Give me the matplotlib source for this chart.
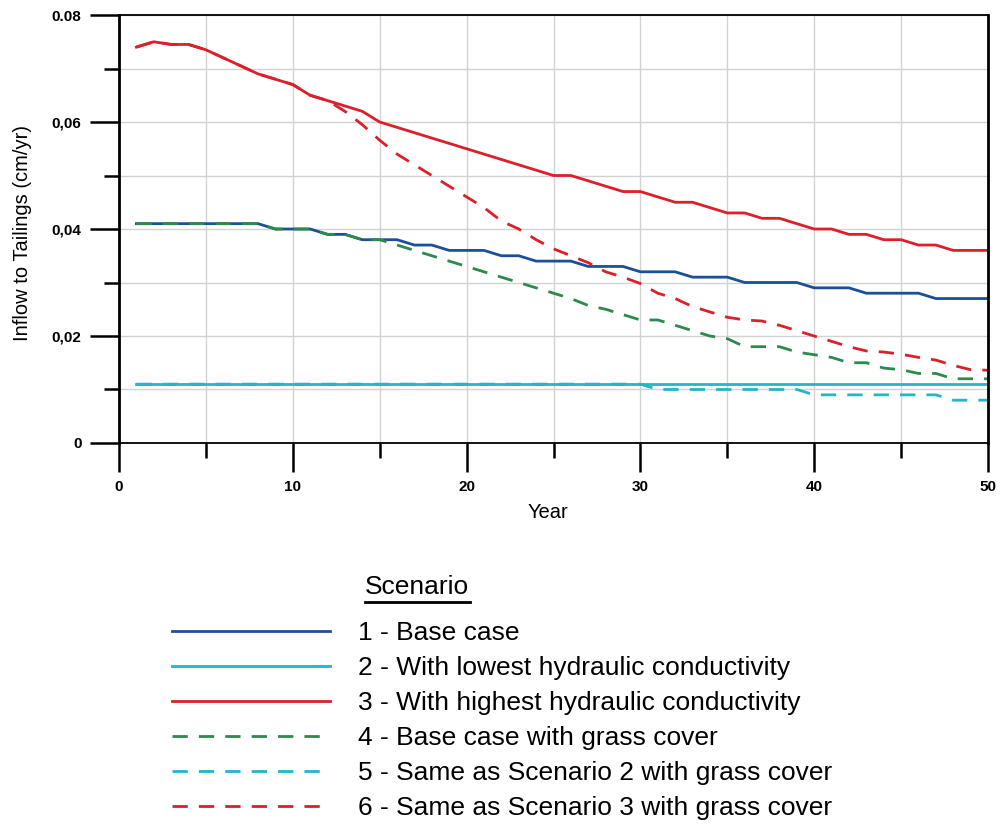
import matplotlib
matplotlib.use("Agg")
import matplotlib.pyplot as plt
from matplotlib.lines import Line2D
from matplotlib.ticker import MultipleLocator
import numpy as np

plt.rcParams['font.family'] = ['Liberation Sans', 'DejaVu Sans']

years = list(range(1, 51))

# 1 - base case
base = [0.041, 0.041, 0.041, 0.041, 0.041, 0.041, 0.041, 0.041, 0.040, 0.040,
        0.040, 0.039, 0.039, 0.038, 0.038, 0.038, 0.037, 0.037, 0.036, 0.036,
        0.036, 0.035, 0.035, 0.034, 0.034, 0.034, 0.033, 0.033, 0.033, 0.032,
        0.032, 0.032, 0.031, 0.031, 0.031, 0.030, 0.030, 0.030, 0.030, 0.029,
        0.029, 0.029, 0.028, 0.028, 0.028, 0.028, 0.027, 0.027, 0.027, 0.027]
# 2 - lowest hydraulic conductivity
low_k = [0.011] * 50
# 3 - highest hydraulic conductivity
high_k = [0.074, 0.075, 0.0745, 0.0745, 0.0735, 0.072, 0.0705, 0.069, 0.068, 0.067,
          0.065, 0.064, 0.063, 0.062, 0.060, 0.059, 0.058, 0.057, 0.056, 0.055,
          0.054, 0.053, 0.052, 0.051, 0.050, 0.050, 0.049, 0.048, 0.047, 0.047,
          0.046, 0.045, 0.045, 0.044, 0.043, 0.043, 0.042, 0.042, 0.041, 0.040,
          0.040, 0.039, 0.039, 0.038, 0.038, 0.037, 0.037, 0.036, 0.036, 0.036]
# 4 - base case with grass cover
base_grass = [0.041, 0.041, 0.041, 0.041, 0.041, 0.041, 0.041, 0.041, 0.040, 0.040,
              0.040, 0.039, 0.039, 0.038, 0.038, 0.037, 0.036, 0.035, 0.034, 0.033,
              0.032, 0.031, 0.030, 0.029, 0.028, 0.027, 0.0257, 0.025, 0.024, 0.023,
              0.023, 0.022, 0.021, 0.020, 0.0195, 0.018, 0.018, 0.018, 0.017, 0.0165,
              0.016, 0.015, 0.015, 0.014, 0.0137, 0.013, 0.013, 0.012, 0.012, 0.012]
# 5 - scenario 2 with grass cover
low_k_grass = [0.011] * 30 + [0.010] * 9 + [0.009] * 8 + [0.008] * 3
# 6 - scenario 3 with grass cover
high_k_grass = [0.074, 0.075, 0.0745, 0.0745, 0.0735, 0.072, 0.0705, 0.069, 0.068, 0.067,
                0.065, 0.064, 0.062, 0.0595, 0.0566, 0.054, 0.052, 0.050, 0.048, 0.046,
                0.044, 0.0415, 0.040, 0.038, 0.0363, 0.035, 0.0337, 0.032, 0.031, 0.0298,
                0.028, 0.027, 0.0255, 0.0245, 0.0235, 0.023, 0.0228, 0.022, 0.021, 0.020,
                0.019, 0.018, 0.0172, 0.017, 0.0166, 0.016, 0.0155, 0.0145, 0.0137, 0.0136]

labels = ["1 - Base case",
          "2 - With lowest hydraulic conductivity",
          "3 - With highest hydraulic conductivity",
          "4 - Base case with grass cover",
          "5 - Same as Scenario 2 with grass cover",
          "6 - Same as Scenario 3 with grass cover"]

blue = '#1d4f98'
cyan = '#22b6c9'
red = '#dc1f2b'
green = '#2b8a4c'
dash = (0, (5.5, 4))

fig = plt.figure(figsize=(10, 8.26), dpi=100)
ax = fig.add_axes([0.119, 0.4637, 0.869, 0.5181])

lw = 2.0
h1, = ax.plot(years, base, color=blue, lw=lw)
h2, = ax.plot(years, low_k, color=cyan, lw=lw)
h3, = ax.plot(years, high_k, color=red, lw=lw)
h4, = ax.plot(years, base_grass, color=green, lw=lw, ls=dash)
h5, = ax.plot(years, low_k_grass, color=cyan, lw=lw, ls=dash)
h6, = ax.plot(years, high_k_grass, color=red, lw=lw, ls=dash)

ax.set_xlim(0, 50)
ax.set_ylim(0, 0.08)
ax.set_xticks([0, 10, 20, 30, 40, 50])
ax.xaxis.set_minor_locator(MultipleLocator(5))
ax.set_yticks([0, 0.02, 0.04, 0.06, 0.08], labels=["0", "0,02", "0,04", "0,06", "0.08"])
ax.yaxis.set_minor_locator(MultipleLocator(0.01))

for t in ax.get_xticklabels() + ax.get_yticklabels():
    t.set_fontsize(11)
    t.set_fontweight('bold')

ax.tick_params(which='major', direction='out', length=21, width=1.8, pad=6)
ax.tick_params(which='minor', direction='out', length=11, width=1.8)
ax.grid(True, which='both', color='#d2d2d2', lw=1.0)
ax.set_axisbelow(True)

for s in ['left', 'right']:
    ax.spines[s].set_linewidth(2.0)
for s in ['top', 'bottom']:
    ax.spines[s].set_linewidth(1.3)

ax.set_xlabel("Year", fontsize=14.5)
ax.xaxis.set_label_coords(0.494, -0.140)
ax.set_ylabel("Inflow to Tailings (cm/yr)", fontsize=14.5)
ax.yaxis.set_label_coords(-0.100, 0.49)

# legend below the axes with an underlined header
fig.text(0.365, 1 - 587 / 826, "Scenario", fontsize=19, va='center', ha='left')
fig.add_artist(Line2D([0.365, 0.470], [1 - 602 / 826] * 2, color='black', lw=2,
                      transform=fig.transFigure))
fig.legend([h1, h2, h3, h4, h5, h6], labels, loc='upper left',
           bbox_to_anchor=(0.172, 1 - 621 / 826), frameon=False, fontsize=19,
           handlelength=6.0, handletextpad=1.05, labelspacing=0.42,
           borderpad=0, borderaxespad=0)

fig.savefig("out.png", dpi=100)
